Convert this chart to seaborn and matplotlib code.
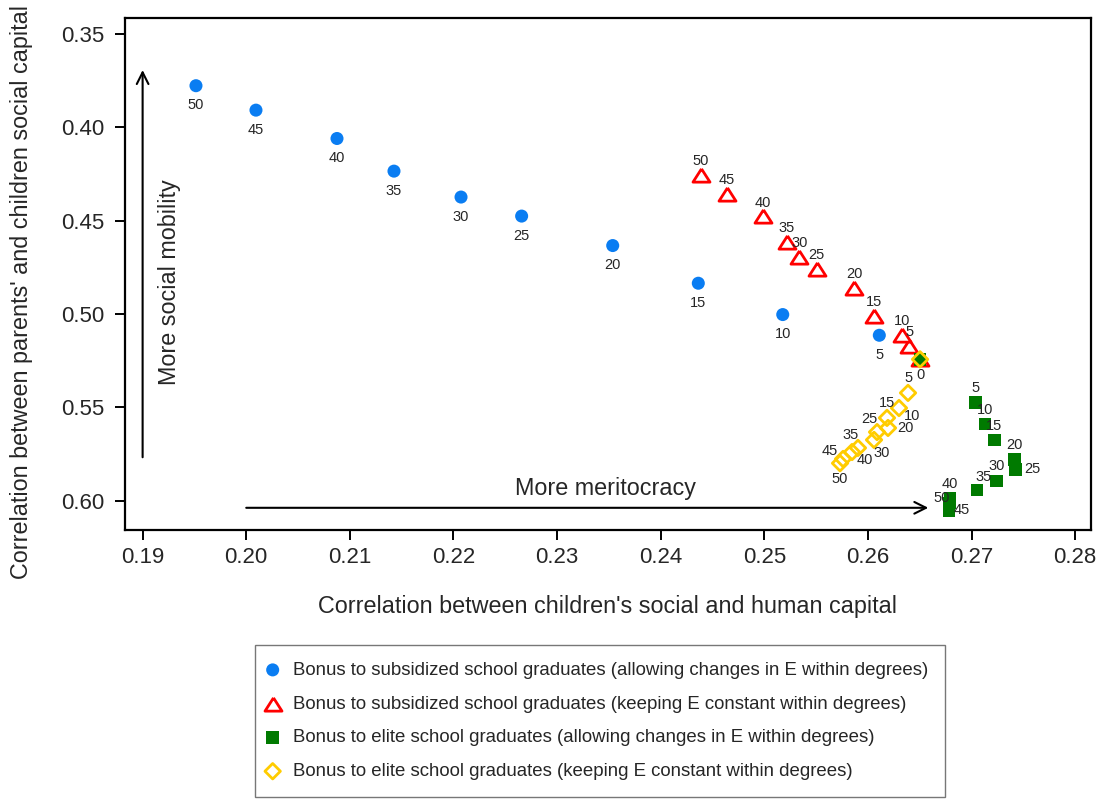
import numpy as np
import pandas as pd
import matplotlib
matplotlib.use("Agg")
import matplotlib.pyplot as plt
import seaborn as sns

# bonus size (points) for every simulated policy
bonus = [0, 5, 10, 15, 20, 25, 30, 35, 40, 45, 50]

# subsidized school bonus, allowing changes in E
sub_allow_x = [0.26503, 0.2611, 0.25178, 0.24363, 0.23537, 0.22658, 0.22073, 0.21426, 0.20876, 0.20094, 0.19515]
sub_allow_y = [0.5243, 0.5114, 0.5003, 0.4835, 0.4633, 0.4475, 0.4373, 0.4234, 0.4059, 0.3907, 0.3776]

# subsidized school bonus, E constant
sub_const_x = [0.26503, 0.2640, 0.26326, 0.26059, 0.25866, 0.25506, 0.25338, 0.25216, 0.24987, 0.24637, 0.24386]
sub_const_y = [0.5243, 0.5171, 0.5114, 0.5012, 0.4862, 0.4758, 0.4695, 0.4612, 0.4477, 0.4357, 0.4256]

# elite school bonus, allowing changes in E
elite_allow_x = [0.26503, 0.2704, 0.2713, 0.2722, 0.27413, 0.27423, 0.27243, 0.2705, 0.26792, 0.26787, 0.26782]
elite_allow_y = [0.5243, 0.5475, 0.5591, 0.5677, 0.5779, 0.5833, 0.5895, 0.5944, 0.5987, 0.6012, 0.6056]

# elite school bonus, E constant
elite_const_x = [0.26503, 0.26387, 0.2630, 0.26184, 0.26194, 0.26088, 0.26059, 0.25904, 0.25847, 0.2576, 0.25731]
elite_const_y = [0.5243, 0.5423, 0.5504, 0.5557, 0.5611, 0.5633, 0.5675, 0.5718, 0.5740, 0.5777, 0.5800]

legend_labels = [
    "Bonus to subsidized school graduates (allowing changes in E within degrees)",
    "Bonus to subsidized school graduates (keeping E constant within degrees)",
    "Bonus to elite school graduates (allowing changes in E within degrees)",
    "Bonus to elite school graduates (keeping E constant within degrees)",
]

x_ticks = [0.19, 0.20, 0.21, 0.22, 0.23, 0.24, 0.25, 0.26, 0.27, 0.28]
y_ticks = [0.35, 0.40, 0.45, 0.50, 0.55, 0.60]

sns.set_style("ticks")
plt.rcParams["font.family"] = ["Liberation Sans", "DejaVu Sans"]

fig = plt.figure(figsize=(11.04, 7.99), dpi=100)
ax = fig.add_axes([125 / 1104, 1 - 530 / 799, 966 / 1104, 512 / 799])

# marker label positions as clock directions
series = [
    (sub_allow_x, sub_allow_y, dict(marker="o", s=88, color="#0a7df2", edgecolor="none"),
     {b: 6 for b in bonus[1:]}, 14),
    (sub_const_x, sub_const_y, dict(marker=[(0, 0.78), (-1, -0.78), (1, -0.78), (0, 0.78)], s=150,
                                    facecolor="white", edgecolor="#ff0000", linewidth=2),
     {b: 12 for b in bonus[1:]}, 10),
    (elite_allow_x, elite_allow_y, dict(marker="s", s=80, color="#007a00", edgecolor="none"),
     {5: 12, 10: 12, 15: 12, 20: 12, 25: 3, 30: 12, 35: 1, 40: 12, 45: 4, 50: 11}, 10.5),
    (elite_const_x, elite_const_y, dict(marker="D", s=62, facecolor="none", edgecolor="#ffcc00", linewidth=2),
     {0: 6, 5: 12, 10: 4, 15: 12, 20: 3, 25: 11, 30: 5, 35: 11, 40: 4, 45: 10, 50: 6}, 11),
]

for (xs, ys, kw, clocks, r), lab in zip(series, legend_labels):
    df = pd.DataFrame({"x": xs, "y": ys, "bonus": bonus})
    sns.scatterplot(data=df, x="x", y="y", ax=ax, label=lab, zorder=3, **kw)
    for _, row in df.iterrows():
        b = int(row["bonus"])
        if b not in clocks:
            continue
        ang = np.deg2rad(clocks[b] * 30)
        dx, dy = r * np.sin(ang), r * np.cos(ang)
        if clocks[b] in (3, 9):
            dx *= 1.15
        ax.annotate(str(b), (row["x"], row["y"]), xytext=(dx, dy), textcoords="offset points",
                    ha="center", va="center", fontsize=10.5, zorder=4)

ax.set_xlim(0.1883, 0.28153)
ax.set_ylim(0.6158, 0.3413)
ax.set_xticks(x_ticks)
ax.set_xticklabels([f"{t:.2f}" for t in x_ticks])
ax.set_yticks(y_ticks)
ax.set_yticklabels([f"{t:.2f}" for t in y_ticks])
ax.tick_params(axis="both", labelsize=16, length=7.5, width=1.4, color="black")
ax.tick_params(axis="x", pad=5)
ax.tick_params(axis="y", pad=7)
for sp in ax.spines.values():
    sp.set_visible(True)
    sp.set_linewidth(1.6)
    sp.set_color("black")

ax.set_xlabel("Correlation between children's social and human capital", fontsize=16.8)
ax.set_ylabel("Correlation between parents' and children social capital", fontsize=16.8)
ax.xaxis.set_label_coords(0.5, -0.127)
ax.yaxis.set_label_coords(-0.095, 0.465)

arrow = dict(arrowstyle="->", lw=1.5, color="black", mutation_scale=21, shrinkA=0, shrinkB=0)
ax.annotate("", xy=(0.19, 0.3692), xytext=(0.19, 0.5768), arrowprops=arrow)
ax.annotate("", xy=(0.26583, 0.6039), xytext=(0.2000, 0.6039), arrowprops=arrow)
ax.text(0.19264, 0.4827, "More social mobility", rotation=90, ha="center", va="center", fontsize=16.8)
ax.text(0.23472, 0.5933, "More meritocracy", ha="center", va="center", fontsize=16.8)

handles, labels = ax.get_legend_handles_labels()
ax.get_legend().remove()
leg = fig.legend(handles, labels, loc="upper left", bbox_to_anchor=(255 / 1104, 1 - 645 / 799),
                 borderaxespad=0, frameon=True, fancybox=False, edgecolor="#555555", fontsize=13.4,
                 labelspacing=0.9, handletextpad=1.05, borderpad=0.9, handlelength=0.1, markerscale=1.0)
leg.get_frame().set_linewidth(1.0)

fig.savefig("out.png", dpi=100)
